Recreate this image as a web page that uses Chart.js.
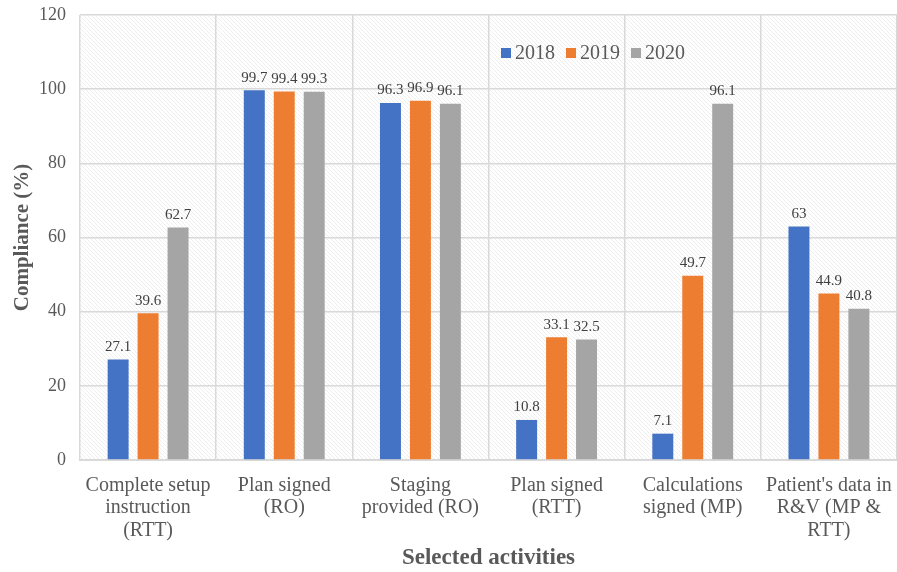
<!DOCTYPE html>
<html>
<head>
<meta charset="utf-8">
<script src="https://cdn.jsdelivr.net/npm/chart.js@4.4.1/dist/chart.umd.min.js"></script>
<style>
  html, body { margin: 0; padding: 0; background: #fff; }
  #wrap { width: 897px; height: 572px; }
</style>
</head>
<body>
<div id="wrap"><canvas id="complianceChart"></canvas></div>
<script>
const categories = [
    ['Complete setup', 'instruction', '(RTT)'],
    ['Plan signed', '(RO)'],
    ['Staging', 'provided (RO)'],
    ['Plan signed', '(RTT)'],
    ['Calculations', 'signed (MP)'],
    ["Patient's data in", 'R&V (MP &', 'RTT)']
];
const values2018 = [27.1, 99.7, 96.3, 10.8, 7.1, 63];
const values2019 = [39.6, 99.4, 96.9, 33.1, 49.7, 44.9];
const values2020 = [62.7, 99.3, 96.1, 32.5, 96.1, 40.8];
const yTicks = [0, 20, 40, 60, 80, 100, 120];

const FONT = "'Liberation Serif', 'Times New Roman', serif";

// light diagonal hatching behind the plot area
function makeHatch() {
    const c = document.createElement('canvas');
    c.width = 4; c.height = 4;
    const g = c.getContext('2d');
    g.fillStyle = '#ffffff';
    g.fillRect(0, 0, 4, 4);
    g.strokeStyle = '#eeeeee';
    g.lineWidth = 1;
    g.beginPath();
    g.moveTo(0, 0); g.lineTo(4, 4);
    g.moveTo(-1, 3); g.lineTo(1, 5);
    g.moveTo(3, -1); g.lineTo(5, 1);
    g.stroke();
    return g.createPattern(c, 'repeat');
}

const hatchBackground = {
    id: 'hatchBackground',
    beforeDraw(chart) {
        const { ctx, chartArea } = chart;
        ctx.save();
        ctx.fillStyle = makeHatch();
        ctx.fillRect(chartArea.left, chartArea.top, chartArea.right - chartArea.left, chartArea.bottom - chartArea.top);
        ctx.restore();
    }
};

// value labels above each bar
const barLabels = {
    id: 'barLabels',
    afterDatasetsDraw(chart) {
        const { ctx } = chart;
        ctx.save();
        ctx.font = '15px ' + FONT;
        ctx.fillStyle = '#404040';
        ctx.textAlign = 'center';
        ctx.textBaseline = 'bottom';
        chart.data.datasets.forEach((ds, i) => {
            chart.getDatasetMeta(i).data.forEach((bar, j) => {
                ctx.fillText(String(ds.data[j]), bar.x, bar.y - 5);
            });
        });
        ctx.restore();
    }
};

// legend drawn inside the plot, top right
const innerLegend = {
    id: 'innerLegend',
    afterDraw(chart) {
        const { ctx } = chart;
        ctx.save();
        ctx.font = '20px ' + FONT;
        ctx.textBaseline = 'middle';
        let x = 501;
        const y = 53;
        chart.data.datasets.forEach(ds => {
            ctx.fillStyle = ds.backgroundColor;
            ctx.fillRect(x, y - 5, 10, 10);
            ctx.fillStyle = '#595959';
            ctx.textAlign = 'left';
            ctx.fillText(ds.label, x + 14, y + 1);
            x += 14 + ctx.measureText(ds.label).width + 11;
        });
        ctx.restore();
    }
};

const common = { categoryPercentage: 0.66, barPercentage: 0.7 };

new Chart(document.getElementById('complianceChart'), {
    type: 'bar',
    data: {
        labels: categories,
        datasets: [
            { label: '2018', data: values2018, backgroundColor: '#4472C4', ...common },
            { label: '2019', data: values2019, backgroundColor: '#ED7D31', ...common },
            { label: '2020', data: values2020, backgroundColor: '#A5A5A5', ...common }
        ]
    },
    options: {
        responsive: true,
        maintainAspectRatio: false,
        animation: false,
        layout: { padding: { top: 0, right: -2, left: 0, bottom: 0 } },
        plugins: {
            legend: { display: false },
            tooltip: { enabled: false }
        },
        scales: {
            y: {
                min: 0,
                max: 120,
                afterBuildTicks: axis => { axis.ticks = yTicks.map(v => ({ value: v })); },
                afterFit: axis => { axis.width = 80; axis.paddingTop = 15; },
                ticks: {
                    font: { family: FONT, size: 18 },
                    color: '#595959',
                    padding: 14
                },
                grid: { color: '#d9d9d9', lineWidth: 1.5, drawTicks: false },
                border: { display: false },
                title: {
                    display: true,
                    text: 'Compliance (%)',
                    font: { family: FONT, size: 21, weight: 'bold' },
                    color: '#595959',
                    padding: { top: 10, bottom: 2 }
                }
            },
            x: {
                afterFit: axis => { axis.height = 112; axis.paddingLeft = 0; axis.paddingRight = 0; },
                ticks: {
                    font: { family: FONT, size: 20, lineHeight: 1.13 },
                    color: '#595959',
                    padding: 14,
                    maxRotation: 0
                },
                grid: {
                    color: c => (c.index === categories.length ? 'rgba(0,0,0,0)' : '#d9d9d9'),
                    lineWidth: 1.5,
                    offset: true,
                    drawTicks: false
                },
                border: { color: '#d9d9d9', width: 2 },
                title: {
                    display: true,
                    text: 'Selected activities',
                    font: { family: FONT, size: 23, weight: 'bold' },
                    color: '#595959',
                    padding: { top: 2, bottom: 0 }
                }
            }
        }
    },
    plugins: [hatchBackground, barLabels, innerLegend]
});
</script>
</body>
</html>
